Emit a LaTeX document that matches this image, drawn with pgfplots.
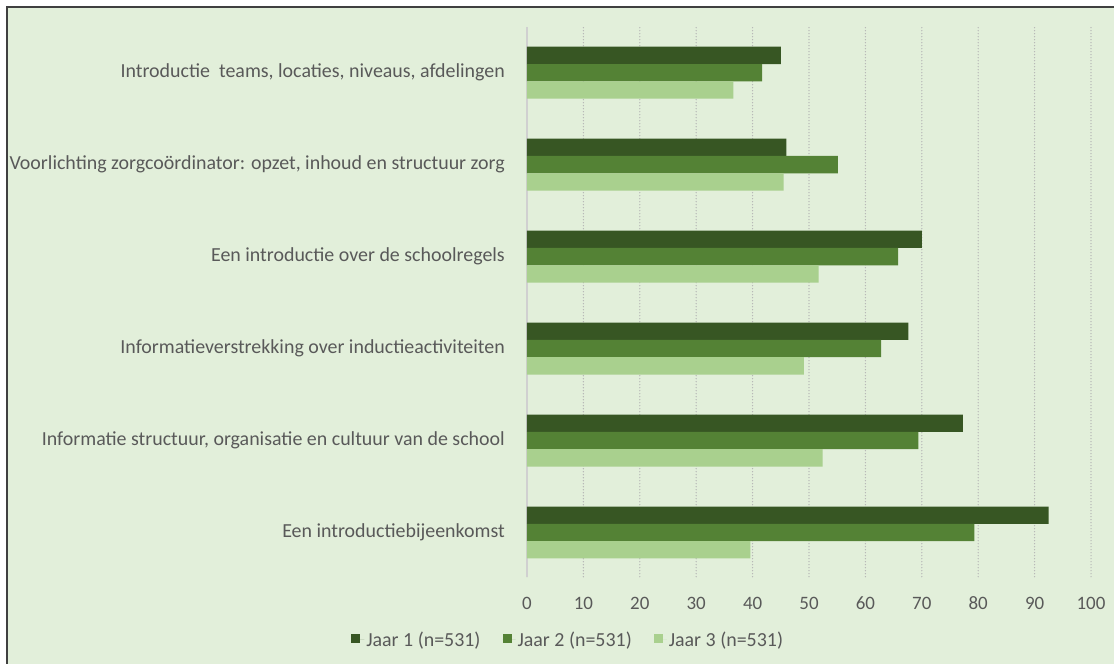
\documentclass[border=0pt]{standalone}
\usepackage{pgfplots}
\pgfplotsset{compat=1.18}
\usepackage{fontspec}
\setmainfont{Carlito}

\definecolor{bg}{HTML}{E2EFDA}
\definecolor{jaarA}{HTML}{375623}
\definecolor{jaarB}{HTML}{548235}
\definecolor{jaarC}{HTML}{A9D08E}
\definecolor{txt}{HTML}{595959}
\definecolor{gridc}{HTML}{B4B4B4}
\definecolor{axisc}{HTML}{D0D0D0}

% y: 0 = onderste categorie
\pgfplotstableread{
y   j1    j2    j3
0   92.5  79.3  39.6
1   77.3  69.4  52.4
2   67.6  62.8  49.1
3   70.0  65.8  51.7
4   46.0  55.1  45.5
5   45.0  41.7  36.6
}\datatable

\begin{document}
\begin{tikzpicture}[x=1bp,y=1bp]
\useasboundingbox (-527,-87.3) rectangle (587,576.7);
\fill[bg] (-520,-87.3) rectangle (587,569.7);
\draw[black!75, line width=1.3bp] (-520,-87.3) -- (-520,569.7) -- (587,569.7);

\begin{axis}[
    at={(0,0)}, anchor=south west,
    scale only axis, width=564bp, height=550bp,
    xbar, bar width=17.3bp,
    xmin=0, xmax=100, ymin=-0.48, ymax=5.5,
    xtick={0,10,...,100},
    ytick={0,...,5},
    yticklabels={{Een introductiebijeenkomst\ },
                 {Informatie structuur, organisatie en cultuur van de school},
                 {Informatieverstrekking over inductieactiviteiten\ },
                 {Een introductie over de schoolregels},
                 {Voorlichting zorgcoördinator: opzet, inhoud en structuur zorg},
                 {Introductie\ \ teams, locaties, niveaus, afdelingen}},
    major tick length=0pt,
    axis line style={draw=none},
    xmajorgrids, grid style={gridc, line width=1.4bp, line cap=round, dash pattern=on 0bp off 3bp},
    font=\fontsize{19}{22}\selectfont,
    tick label style={txt},
    /pgf/number format/assume math mode=true,
    xticklabel style={inner sep=0pt, anchor=north, yshift=-20bp},
    yticklabel style={inner sep=0pt, anchor=east, xshift=-22bp, font=\fontsize{20}{23}\selectfont},
    legend columns=3,
    legend style={at={(axis description cs:0.073,-0.115)}, anchor=center,
        draw=none, fill=none, text=txt, font=\fontsize{20}{23}\selectfont,
        /tikz/every even column/.append style={column sep=20bp},
        nodes={inner sep=2bp}},
    legend image code/.code={\path (0bp,0bp) -- (13bp,0bp);
        \fill[#1] (0bp,-3.5bp) rectangle (9bp,5.5bp);},
    clip=false,
]
\draw[axisc, line width=1.2bp] (axis cs:0,-0.48) -- (axis cs:0,5.5);
\addplot[draw=none, fill=jaarA, bar shift=17.3bp] table[x=j1, y=y] {\datatable};
\addplot[draw=none, fill=jaarB, bar shift=0bp] table[x=j2, y=y] {\datatable};
\addplot[draw=none, fill=jaarC, bar shift=-17.3bp] table[x=j3, y=y] {\datatable};
\legend{Jaar 1 (n=531), Jaar 2 (n=531), Jaar 3 (n=531)}
\end{axis}
\end{tikzpicture}
\end{document}
